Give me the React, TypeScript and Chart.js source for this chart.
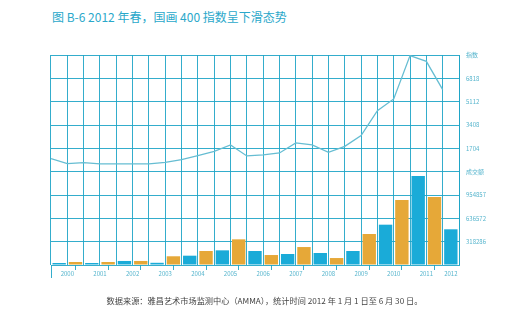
import { useEffect, useRef } from 'react';
import { Chart, registerables } from 'chart.js';
Chart.register(...registerables);

const categories = [
  '2000春', '2000秋', '2001春', '2001秋', '2002春', '2002秋', '2003春', '2003秋',
  '2004春', '2004秋', '2005春', '2005秋', '2006春', '2006秋', '2007春', '2007秋',
  '2008春', '2008秋', '2009春', '2009秋', '2010春', '2010秋', '2011春', '2011秋', '2012春',
];
const turnover = [
  27000, 41000, 27000, 41000, 55000, 55000, 30000, 119000,
  127000, 191000, 200000, 350000, 191000, 136000, 150000, 245000,
  164000, 95000, 191000, 423000, 550000, 887000, 1214000, 928000, 487000,
];
const indexValues = [
  950, 584, 657, 570, 570, 570, 570, 680,
  876, 1169, 1483, 1950, 1147, 1220, 1366, 2096,
  1950, 1410, 1848, 2630, 4455, 5310, 8473, 8056, 5990,
];
const yearLabels = ['2000', '2001', '2002', '2003', '2004', '2005', '2006', '2007', '2008', '2009', '2010', '2011', '2012'];
const yearLabelPositions = [1, 3, 5, 7, 9, 11, 13, 15, 17, 19, 21, 23, 24.5];
const yearBoundaries = [0, 2, 4, 6, 8, 10, 12, 14, 16, 18, 20, 22, 24];
const rightTickLabels = ['', '318286', '636572', '954857', '成交额', '1704', '3408', '5112', '6818', '指数'];
const turnoverStep = 318286;
const indexStep = 1704;

const BLUE = '#1aabd8';
const GOLD = '#e6a838';
const GRID = 'rgba(30,164,199,0.9)';
const LINE = '#66bdd2';
const LABEL = '#56b5cd';
const FONT = "'Noto Sans CJK SC', 'Noto Sans', sans-serif";

const leftTickPlugin = {
  id: 'leftTick',
  afterDraw(chart: any) {
    const s = chart.scales.x2;
    const x = Math.round(s.getPixelForValue(yearBoundaries[0])) + 0.5;
    const ctx = chart.ctx;
    ctx.save();
    ctx.strokeStyle = GRID;
    ctx.lineWidth = 1;
    ctx.beginPath();
    ctx.moveTo(x, chart.chartArea.bottom);
    ctx.lineTo(x, chart.chartArea.bottom + 13);
    ctx.stroke();
    ctx.restore();
  },
};

export default function App() {
  const ref = useRef<HTMLCanvasElement | null>(null);
  useEffect(() => {
    if (!ref.current) return;
    const chart = new Chart(ref.current, {
      type: 'bar',
      data: {
        labels: categories,
        datasets: [
          {
            type: 'line',
            data: indexValues.map((v, i) => ({ x: i, y: v })),
            xAxisID: 'x2',
            yAxisID: 'y2',
            borderColor: LINE,
            borderWidth: 1.3,
            pointRadius: 0,
            tension: 0,
            fill: false,
          } as any,
          {
            type: 'bar',
            data: turnover,
            xAxisID: 'x',
            yAxisID: 'y',
            backgroundColor: categories.map((c) => (c.endsWith('春') ? BLUE : GOLD)),
            barPercentage: 0.82,
            categoryPercentage: 1,
            grouped: false,
          },
        ],
      },
      plugins: [leftTickPlugin],
      options: {
        responsive: false,
        animation: false,
        devicePixelRatio: 1,
        layout: { padding: { left: 51, top: 55, right: 20, bottom: 40 } },
        plugins: { legend: { display: false }, tooltip: { enabled: false }, title: { display: false } },
        scales: {
          x: {
            type: 'category',
            position: 'bottom',
            offset: true,
            grid: { color: GRID, offset: true, drawTicks: false, lineWidth: 1 },
            border: { display: false },
            ticks: { display: false },
            afterFit: (s: any) => { s.height = 0; },
          },
          x2: {
            type: 'linear',
            position: 'bottom',
            min: 0,
            max: 25,
            offset: false,
            grid: {
              drawOnChartArea: false,
              drawTicks: true,
              tickLength: 5,
              tickColor: (ctx: any) => (ctx.tick && yearBoundaries.includes(ctx.tick.value) ? GRID : 'transparent'),
            },
            border: { display: false },
            afterBuildTicks: (s: any) => {
              const vals: number[] = [];
              yearBoundaries.forEach((b, i) => { vals.push(b); vals.push(yearLabelPositions[i]); });
              s.ticks = vals.sort((a, b) => a - b).map((v) => ({ value: v }));
            },
            ticks: {
              autoSkip: false,
              maxRotation: 0,
              minRotation: 0,
              padding: 0,
              color: LABEL,
              font: { family: FONT, size: 6 },
              callback: (v: any) => {
                const idx = yearLabelPositions.indexOf(Number(v));
                return idx >= 0 ? yearLabels[idx] : '';
              },
            },
            afterFit: (s: any) => { s.height = 16; },
          },
          y: {
            type: 'linear',
            position: 'right',
            min: 0,
            max: turnoverStep * 9,
            grid: { color: GRID, drawTicks: false, lineWidth: 1 },
            border: { color: GRID },
            ticks: {
              stepSize: turnoverStep,
              padding: 7,
              color: LABEL,
              font: { family: FONT, size: 6 },
              callback: (_v: any, i: number) => rightTickLabels[i],
            },
            afterFit: (s: any) => { s.width = 30; },
          },
          y2: {
            type: 'linear',
            display: false,
            min: -indexStep * 4,
            max: indexStep * 5,
          },
        },
      } as any,
    });
    return () => chart.destroy();
  }, []);

  return (
    <div style={{ position: 'fixed', left: 0, top: 0, width: 509, height: 321, background: '#fff', overflow: 'hidden' }}>
      <div
        style={{
          position: 'absolute', left: 52, top: 8, fontFamily: FONT, fontSize: 12, lineHeight: '18px',
          color: '#2aa8ca', whiteSpace: 'nowrap',
        }}
      >
        图 B-6  2012 年春，国画 400 指数呈下滑态势
      </div>
      <canvas ref={ref} width={509} height={321} style={{ position: 'absolute', left: 0, top: 0 }} />
      <div
        style={{
          position: 'absolute', left: 0, width: 529, top: 294, fontFamily: FONT, fontSize: 8.2, lineHeight: '12px',
          color: '#444', whiteSpace: 'nowrap', textAlign: 'center',
        }}
      >
        数据来源：雅昌艺术市场监测中心（AMMA），统计时间 2012 年 1 月 1 日至 6 月 30 日。
      </div>
    </div>
  );
}
